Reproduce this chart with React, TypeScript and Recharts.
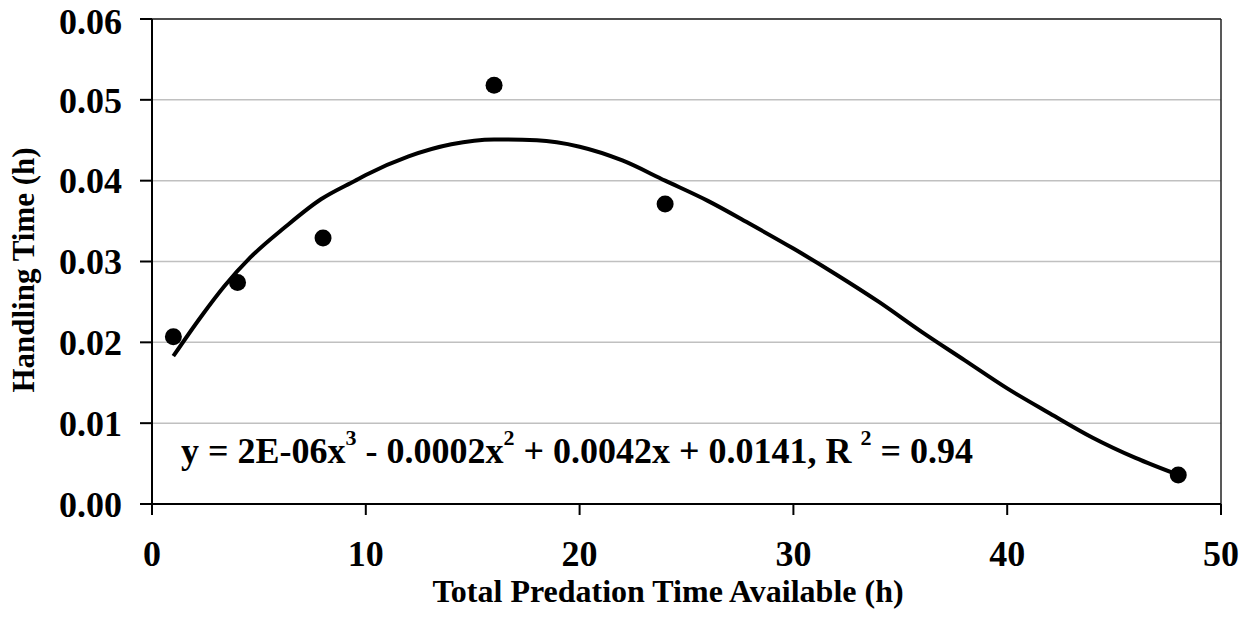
import {
  CartesianGrid,
  ComposedChart,
  Customized,
  Line,
  ReferenceLine,
  Scatter,
  XAxis,
  YAxis,
} from "recharts";

// observed points: total predation time (h) vs handling time (h)
const hoursAvailable = [1, 4, 8, 16, 24, 48];
const handlingTime = [0.0207, 0.0274, 0.0329, 0.0518, 0.0371, 0.0036];

// fitted cubic trend line
const trendX = [
  1, 2.3, 3.4, 4.6, 6.2, 7.9, 9.5, 10, 12, 14, 16, 18, 20, 22, 24, 26, 28, 30,
  32, 34, 36, 38, 40, 42, 44, 46, 48,
];
const trendY = [
  0.0183, 0.0232, 0.027, 0.0305, 0.0342, 0.0377, 0.04, 0.0407, 0.043,
  0.0445, 0.0451, 0.045, 0.0442, 0.0425, 0.04, 0.0375, 0.0346, 0.0316, 0.0284,
  0.025, 0.0213, 0.0178, 0.0143, 0.0112, 0.0082, 0.0057, 0.0036,
];

const xTicks = [0, 10, 20, 30, 40, 50];
const yTicks = [0, 0.01, 0.02, 0.03, 0.04, 0.05, 0.06];

const points = hoursAvailable.map((x, i) => ({ x, y: handlingTime[i] }));
const trend = trendX.map((x, i) => ({ x, fit: trendY[i] }));

const FONT = '"Liberation Serif", "Times New Roman", serif';

function Titles() {
  return (
    <g fontFamily={FONT} fontWeight="bold" fill="#000">
      <text x={668} y={602} fontSize={32} textAnchor="middle">
        Total Predation Time Available (h)
      </text>
      <text
        x={34}
        y={270}
        fontSize={31}
        textAnchor="middle"
        transform="rotate(-90, 34, 270)"
      >
        Handling Time (h)
      </text>
      <text x={181} y={463} fontSize={36}>
        y = 2E-06x
        <tspan fontSize={22} dy={-18}>3</tspan>
        <tspan dy={18}> - 0.0002x</tspan>
        <tspan fontSize={22} dy={-18}>2</tspan>
        <tspan dy={18}> + 0.0042x + 0.0141, R </tspan>
        <tspan fontSize={22} dy={-18}>2</tspan>
        <tspan dy={18}> = 0.94</tspan>
      </text>
    </g>
  );
}

const Dot = (props: any) => (
  <circle cx={props.cx} cy={props.cy} r={8.5} fill="#000" />
);

export default function App() {
  return (
    <div style={{ position: "absolute", left: 0, top: 0, background: "#fff" }}>
      <ComposedChart
        width={1252}
        height={617}
        margin={{ top: 19, right: 31, bottom: 0, left: 0 }}
      >
        <CartesianGrid stroke="#c0c0c0" strokeWidth={1.5} vertical={false} />
        <XAxis
          type="number"
          dataKey="x"
          domain={[0, 50]}
          ticks={xTicks}
          height={113}
          stroke="#000"
          strokeWidth={2}
          tickSize={11}
          tickMargin={25}
          tick={{ fill: "#000", fontSize: 36, fontWeight: "bold", fontFamily: FONT }}
          allowDataOverflow
        />
        <YAxis
          type="number"
          domain={[0, 0.06]}
          ticks={yTicks}
          width={152}
          stroke="#000"
          strokeWidth={2}
          tickSize={12}
          tickMargin={18}
          tickFormatter={(v: number) => v.toFixed(2)}
          tick={{ fill: "#000", fontSize: 36, fontWeight: "bold", fontFamily: FONT }}
          allowDataOverflow
        />
        <ReferenceLine y={0.06} stroke="#222" strokeWidth={1.5} />
        <ReferenceLine x={50} stroke="#222" strokeWidth={1.5} />
        <Line
          data={trend}
          dataKey="fit"
          type="monotone"
          stroke="#000"
          strokeWidth={4}
          dot={false}
          activeDot={false}
          isAnimationActive={false}
        />
        <Scatter
          data={points}
          dataKey="y"
          shape={Dot}
          isAnimationActive={false}
        />
        <Customized component={Titles} />
      </ComposedChart>
    </div>
  );
}
